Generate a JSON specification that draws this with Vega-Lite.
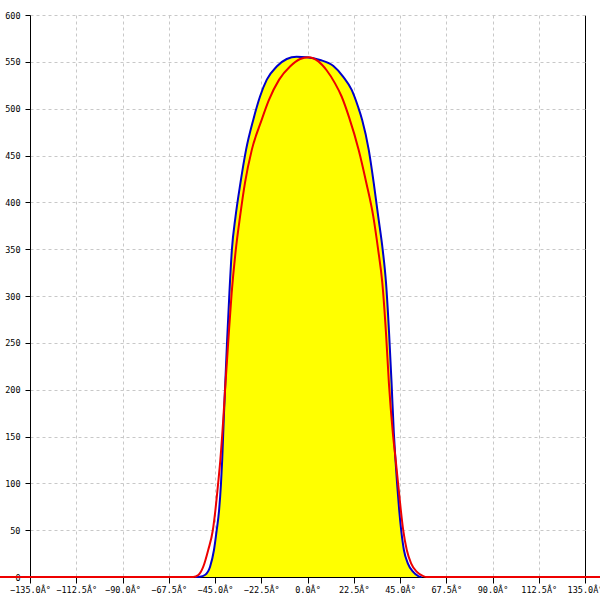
{
  "$schema": "https://vega.github.io/schema/vega-lite/v6.json",
  "width": 555,
  "height": 562,
  "autosize": {"type": "none"},
  "padding": {"left": 30, "top": 15, "right": 15, "bottom": 23},
  "background": "white",
  "config": {
    "view": {"stroke": null},
    "axis": {
      "labelFont": "DejaVu Sans Mono",
      "labelFontSize": 8.5,
      "labelColor": "black",
      "domainColor": "black",
      "tickColor": "black",
      "gridColor": "#c8c8c8",
      "gridDash": [3, 3],
      "title": null
    }
  },
  "datasets": {
    "curves": [
      {"series": "blue", "angle": -54.7, "value": 0},
      {"series": "blue", "angle": -52.3, "value": 0.3},
      {"series": "blue", "angle": -49.9, "value": 2.1},
      {"series": "blue", "angle": -47.4, "value": 11},
      {"series": "blue", "angle": -45.5, "value": 28.8},
      {"series": "blue", "angle": -44.2, "value": 49.4},
      {"series": "blue", "angle": -43.0, "value": 71.5},
      {"series": "blue", "angle": -42.1, "value": 99.3},
      {"series": "blue", "angle": -41.5, "value": 125},
      {"series": "blue", "angle": -40.7, "value": 171},
      {"series": "blue", "angle": -40.0, "value": 207},
      {"series": "blue", "angle": -39.1, "value": 253},
      {"series": "blue", "angle": -38.0, "value": 303},
      {"series": "blue", "angle": -36.8, "value": 349},
      {"series": "blue", "angle": -35.0, "value": 385},
      {"series": "blue", "angle": -32.6, "value": 421},
      {"series": "blue", "angle": -29.9, "value": 456},
      {"series": "blue", "angle": -26.4, "value": 488},
      {"series": "blue", "angle": -23.1, "value": 513},
      {"series": "blue", "angle": -19.8, "value": 531},
      {"series": "blue", "angle": -15.0, "value": 545},
      {"series": "blue", "angle": -10.1, "value": 553},
      {"series": "blue", "angle": -5.3, "value": 555.5},
      {"series": "blue", "angle": -0.4, "value": 555},
      {"series": "blue", "angle": 6.1, "value": 552},
      {"series": "blue", "angle": 12.6, "value": 545.5},
      {"series": "blue", "angle": 17.4, "value": 534},
      {"series": "blue", "angle": 21.5, "value": 520},
      {"series": "blue", "angle": 24.6, "value": 502},
      {"series": "blue", "angle": 26.6, "value": 488},
      {"series": "blue", "angle": 29.8, "value": 456},
      {"series": "blue", "angle": 32.2, "value": 421},
      {"series": "blue", "angle": 34.4, "value": 385},
      {"series": "blue", "angle": 36.6, "value": 349},
      {"series": "blue", "angle": 38.2, "value": 314},
      {"series": "blue", "angle": 39.7, "value": 260},
      {"series": "blue", "angle": 40.9, "value": 207},
      {"series": "blue", "angle": 42.0, "value": 154},
      {"series": "blue", "angle": 42.8, "value": 125},
      {"series": "blue", "angle": 43.6, "value": 99.3},
      {"series": "blue", "angle": 44.6, "value": 71.5},
      {"series": "blue", "angle": 45.6, "value": 49.4},
      {"series": "blue", "angle": 46.9, "value": 28.8},
      {"series": "blue", "angle": 48.8, "value": 14.6},
      {"series": "blue", "angle": 51.3, "value": 5.7},
      {"series": "blue", "angle": 53.9, "value": 1},
      {"series": "blue", "angle": 55.5, "value": 0},
      {"series": "red", "angle": -150, "value": 0},
      {"series": "red", "angle": -55.6, "value": 0},
      {"series": "red", "angle": -53.1, "value": 2.1},
      {"series": "red", "angle": -50.7, "value": 11},
      {"series": "red", "angle": -48.3, "value": 28.8},
      {"series": "red", "angle": -46.1, "value": 49.4},
      {"series": "red", "angle": -44.8, "value": 71.5},
      {"series": "red", "angle": -43.5, "value": 99.3},
      {"series": "red", "angle": -42.4, "value": 125},
      {"series": "red", "angle": -40.9, "value": 171},
      {"series": "red", "angle": -39.9, "value": 207},
      {"series": "red", "angle": -38.5, "value": 253},
      {"series": "red", "angle": -36.9, "value": 303},
      {"series": "red", "angle": -34.9, "value": 349},
      {"series": "red", "angle": -32.8, "value": 385},
      {"series": "red", "angle": -30.4, "value": 421},
      {"series": "red", "angle": -27.1, "value": 456},
      {"series": "red", "angle": -22.3, "value": 488},
      {"series": "red", "angle": -18.8, "value": 509},
      {"series": "red", "angle": -13.8, "value": 531},
      {"series": "red", "angle": -8.5, "value": 545},
      {"series": "red", "angle": -3.6, "value": 553},
      {"series": "red", "angle": 0.4, "value": 555},
      {"series": "red", "angle": 5.3, "value": 550.5},
      {"series": "red", "angle": 9.3, "value": 541},
      {"series": "red", "angle": 13.4, "value": 527},
      {"series": "red", "angle": 16.6, "value": 513},
      {"series": "red", "angle": 20.2, "value": 491},
      {"series": "red", "angle": 24.9, "value": 456},
      {"series": "red", "angle": 28.6, "value": 421},
      {"series": "red", "angle": 32.0, "value": 385},
      {"series": "red", "angle": 34.4, "value": 349},
      {"series": "red", "angle": 36.4, "value": 314},
      {"series": "red", "angle": 38.2, "value": 260},
      {"series": "red", "angle": 39.6, "value": 207},
      {"series": "red", "angle": 41.5, "value": 154},
      {"series": "red", "angle": 42.9, "value": 125},
      {"series": "red", "angle": 44.1, "value": 99.3},
      {"series": "red", "angle": 45.4, "value": 71.5},
      {"series": "red", "angle": 46.6, "value": 49.4},
      {"series": "red", "angle": 48.3, "value": 28.8},
      {"series": "red", "angle": 50.4, "value": 14.6},
      {"series": "red", "angle": 53.1, "value": 5.7},
      {"series": "red", "angle": 56.3, "value": 1},
      {"series": "red", "angle": 58, "value": 0},
      {"series": "red", "angle": 150, "value": 0}
    ]
  },
  "data": {"name": "curves"},
  "encoding": {
    "x": {
      "field": "angle",
      "type": "quantitative",
      "scale": {"domain": [-135, 135], "nice": false, "zero": false},
      "axis": {
        "values": [-135, -112.5, -90, -67.5, -45, -22.5, 0, 22.5, 45, 67.5, 90, 112.5, 135],
        "labelExpr": "format(datum.value, '.1f') + 'Â°'",
        "labelFlush": false,
        "labelOverlap": false,
        "tickSize": 6,
        "labelPadding": 2,
        "gridColor": {"condition": {"test": "datum.value == 135", "value": "black"}, "value": "#c8c8c8"},
        "gridDash": {"condition": {"test": "datum.value == 135", "value": []}, "value": [3, 3]}
      }
    },
    "y": {
      "field": "value",
      "type": "quantitative",
      "scale": {"domain": [0, 600], "nice": false},
      "axis": {
        "values": [0, 50, 100, 150, 200, 250, 300, 350, 400, 450, 500, 550, 600],
        "labelExpr": "datum.value == 0 ? '0' : datum.label",
        "tickSize": 5,
        "labelPadding": 5
      }
    }
  },
  "layer": [
    {
      "transform": [{"filter": "datum.series == 'blue'"}],
      "mark": {"type": "area", "color": "#ffff00", "opacity": 1, "interpolate": "monotone"}
    },
    {
      "transform": [{"filter": "datum.series == 'blue'"}],
      "mark": {"type": "line", "color": "#0000cc", "strokeWidth": 2, "interpolate": "monotone"}
    },
    {
      "transform": [{"filter": "datum.series == 'red'"}],
      "mark": {"type": "line", "color": "#ee0000", "strokeWidth": 2, "clip": false, "interpolate": "monotone"}
    }
  ]
}
